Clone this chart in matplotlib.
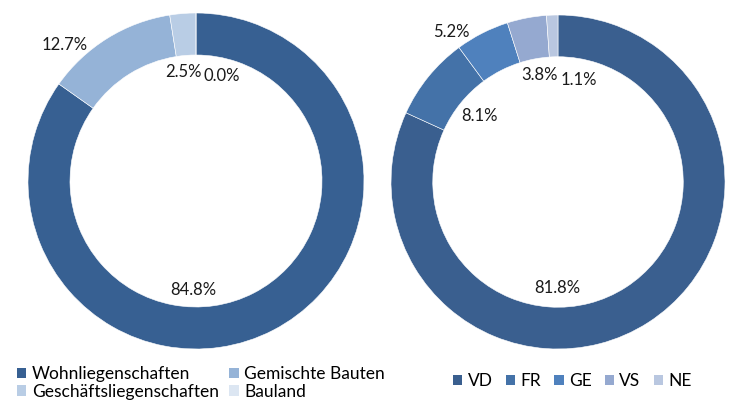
import matplotlib
matplotlib.use('Agg')
from matplotlib import pyplot as plt
from matplotlib.patches import Patch

plt.rcParams['font.family'] = ['Lato', 'DejaVu Sans']

# left donut: property types
types = ['Wohnliegenschaften', 'Gemischte Bauten', 'Geschäftsliegenschaften', 'Bauland']
type_shares = [84.8, 12.7, 2.5, 0.0]
type_colors = ['#376092', '#95B3D7', '#B9CDE5', '#DCE6F2']

# right donut: cantons
cantons = ['VD', 'FR', 'GE', 'VS', 'NE']
canton_shares = [81.8, 8.1, 5.2, 3.8, 1.1]
canton_colors = ['#3A5F8F', '#4472A8', '#4F81BD', '#95A9D0', '#B9C7E0']

W, H = 736, 401


def donut_axes(fig, cx, cy, r):
    ax = fig.add_axes([(cx - r) / W, (H - cy - r) / H, 2 * r / W, 2 * r / H])
    return ax


def draw_donut(ax, values, colors, label_px, cx, cy, r):
    ax.pie([max(v, 1e-9) for v in values], colors=colors, startangle=90,
           counterclock=False, radius=1.0,
           wedgeprops=dict(width=0.25, edgecolor='white', linewidth=0.4))
    ax.set_xlim(-1, 1)
    ax.set_ylim(-1, 1)
    ax.set_aspect('equal')
    ax.axis('off')
    for v, (px, py) in zip(values, label_px):
        ax.text((px - cx) / r, (cy - py) / r, '%.1f%%' % v,
                ha='center', va='center', fontsize=12, color='#1a1a1a')


fig = plt.figure(figsize=(W / 100, H / 100), dpi=100)

# left chart
lcx, lcy, lr = 196, 181, 168
ax1 = donut_axes(fig, lcx, lcy, lr)
draw_donut(ax1, type_shares, type_colors,
           [(193, 290), (65, 45), (183, 72), (222, 76)], lcx, lcy, lr)

# right chart
rcx, rcy, rr = 558, 182, 167
ax2 = donut_axes(fig, rcx, rcy, rr)
draw_donut(ax2, canton_shares, canton_colors,
           [(557, 288), (480, 116), (451, 32), (540, 75), (579, 80)], rcx, rcy, rr)

# legend fills column-wise, so reorder to read row-wise
order = [0, 2, 1, 3]
h1 = [Patch(facecolor=type_colors[i], edgecolor='none') for i in order]
fig.legend(h1, [types[i] for i in order], ncol=2, loc='upper left',
           bbox_to_anchor=(10 / W, 1 - 359 / H),
           frameon=False, fontsize=12.5, handlelength=0.55, handleheight=0.55,
           handletextpad=0.3, columnspacing=0.6, labelspacing=0.1, borderaxespad=0)

h2 = [Patch(facecolor=c, edgecolor='none') for c in canton_colors]
fig.legend(h2, cantons, ncol=5, loc='upper left', bbox_to_anchor=(446 / W, 1 - 366 / H),
           frameon=False, fontsize=12.5, handlelength=0.55, handleheight=0.55,
           handletextpad=0.3, columnspacing=0.75, borderaxespad=0)

fig.savefig('out.png', dpi=100)
